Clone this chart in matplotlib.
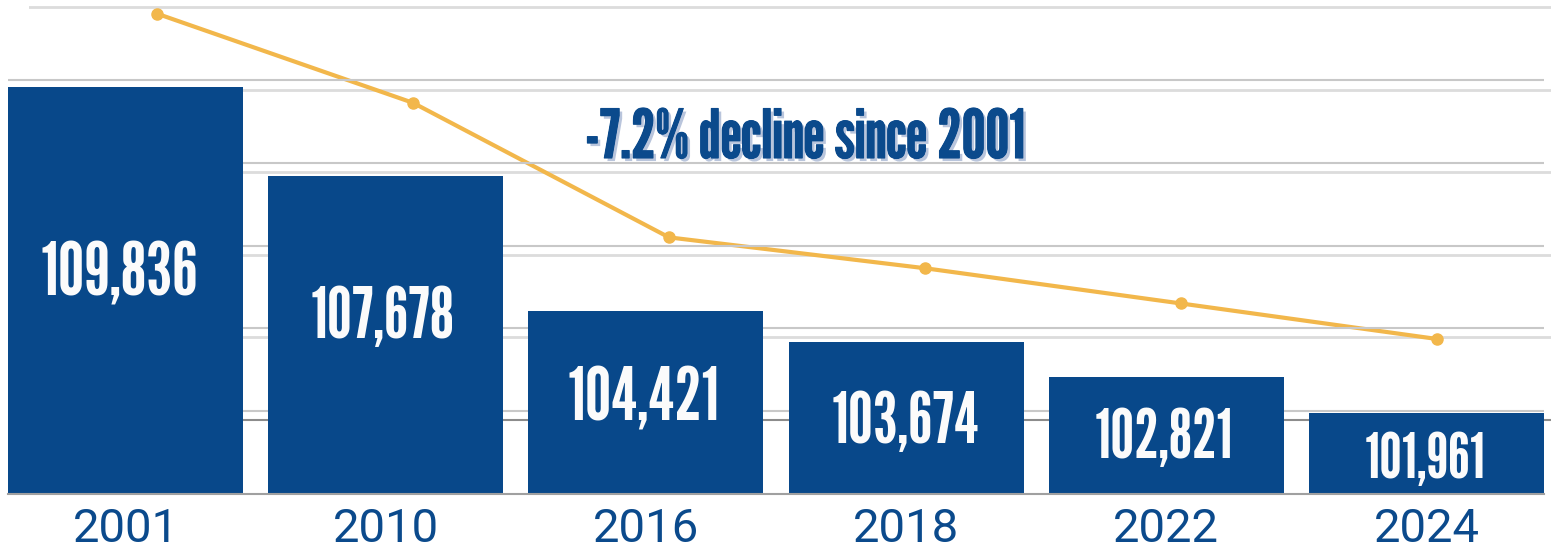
import matplotlib
matplotlib.use("Agg")
import matplotlib.pyplot as plt
import matplotlib.patheffects as pe
import numpy as np

# ---- data ----
years = ["2001", "2010", "2016", "2018", "2022", "2024"]
values = [109836, 107678, 104421, 103674, 102821, 101961]
annotation = "-7.2% decline since 2001"

# ---- style ----
BAR_COLOR = "#08488a"
TEXT_BLUE = "#0b4a8c"
LINE_COLOR = "#f2b74b"
SHADOW = "#b9c5dc"
label_sizes = [53.5, 50.6, 53.5, 50.6, 48.6, 45.7]      # pt
label_offsets = [5, 2.5, 18.5, 25, 22.5, 25]            # px below bar middle (baseline)
label_shift = [-6, -3, -2, -1, -2, -1]                  # px horizontal nudge

W, H = 1551, 550
fig = plt.figure(figsize=(W / 100, H / 100), dpi=100)

px_per_unit = 0.04131
# line axes (behind)
ax2 = fig.add_axes([29 / W, (H - 420) / H, 1536 / W, 420 / H])
ax2.set_zorder(1)
ax2.set_xlim(-0.5, 5.5)
ax2.set_ylim(100000, 100000 + 420 / px_per_unit)
ax2.set_yticks(np.arange(102000, 110001, 2000))
ax2.grid(axis="y", color="#dcdcdc", lw=2)
ax2.set_axisbelow(True)
for s in ["top", "left", "right"]:
    ax2.spines[s].set_visible(False)
ax2.spines["bottom"].set_color("#8c8c8c")
ax2.spines["bottom"].set_linewidth(1.5)
ax2.tick_params(left=False, bottom=False, labelleft=False, labelbottom=False)
x = np.arange(len(years))
ax2.plot(x, values, color=LINE_COLOR, lw=3, marker="o", ms=8, zorder=3,
         clip_on=False)

# bar axes (front)
ax = fig.add_axes([8 / W, (H - 493.6) / H, 1536 / W, 493.6 / H])
ax.set_zorder(2)
ax.patch.set_visible(False)
bw = 0.903
ax.set_xlim(-bw / 2, len(years) - 1 + bw / 2)
ax.set_ylim(100000, 100000 + 493.6 / px_per_unit)
ax.bar(x, [v - 100000 for v in values], bottom=100000, width=bw,
       color=BAR_COLOR, zorder=2)
ax.set_yticks(np.arange(102000, 110001, 2000))
ax.grid(axis="y", color="#c8c8c8", lw=1.5, zorder=0)
ax.set_axisbelow(True)
for s in ["top", "left", "right"]:
    ax.spines[s].set_visible(False)
ax.spines["bottom"].set_color("#a0a0a0")
ax.spines["bottom"].set_linewidth(1.5)
ax.tick_params(left=False, labelleft=False, bottom=False, pad=6)
ax.set_xticks(x)
ax.set_xticklabels(years, fontfamily="Roboto", fontsize=34, color=TEXT_BLUE)

for i, v in enumerate(values):
    ax.annotate(f"{v:,}", xy=(i, (100000 + v) / 2),
                xytext=(label_shift[i], -label_offsets[i]),
                textcoords="offset pixels", ha="center", va="baseline",
                fontfamily="League Gothic", fontsize=label_sizes[i],
                color="#fbfbfb", zorder=4)

t = fig.text(585 / W, (H - 158) / H, annotation, ha="left", va="baseline",
             fontfamily="League Gothic", fontsize=48.5, color=TEXT_BLUE, zorder=10)
t.set_path_effects([pe.withSimplePatchShadow(offset=(2.2, -2.2),
                                             shadow_rgbFace=SHADOW, alpha=1),
                    pe.withStroke(linewidth=0.8, foreground=TEXT_BLUE)])

fig.savefig("out.png", dpi=100, facecolor="white")
